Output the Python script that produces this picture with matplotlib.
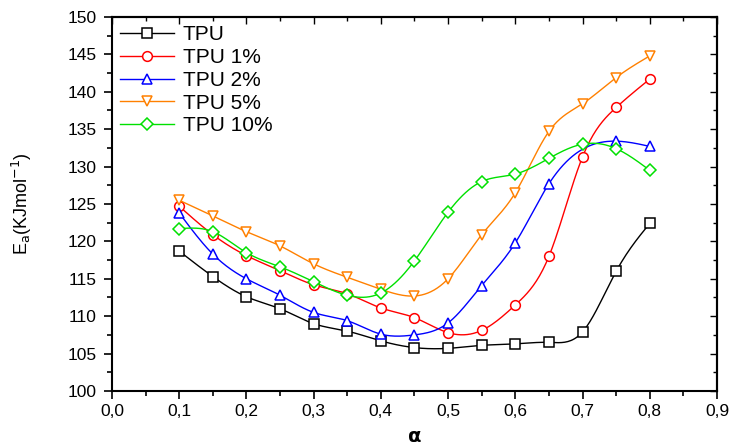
import numpy as np
import matplotlib
matplotlib.use('Agg')
import matplotlib.pyplot as plt
from matplotlib.ticker import MultipleLocator, FormatStrFormatter

plt.rcParams['font.family'] = ['Liberation Sans', 'DejaVu Sans']

alpha = [0.1, 0.15, 0.2, 0.25, 0.3, 0.35, 0.4, 0.45, 0.5, 0.55, 0.6, 0.65, 0.7, 0.75, 0.8]
alpha_2 = [0.1, 0.15, 0.2, 0.25, 0.3, 0.35, 0.4, 0.45, 0.5, 0.55, 0.6, 0.65, 0.75, 0.8]

ea_tpu = [118.7, 115.3, 112.6, 111.0, 109.0, 108.0, 106.7, 105.8, 105.7, 106.1, 106.3, 106.5, 107.9, 116.0, 122.4]
ea_tpu1 = [124.7, 120.9, 118.1, 116.1, 114.2, 113.0, 111.1, 109.8, 107.8, 108.1, 111.5, 118.0, 131.3, 137.9, 141.7]
ea_tpu2 = [123.8, 118.3, 115.0, 112.8, 110.5, 109.4, 107.6, 107.5, 109.1, 114.1, 119.8, 127.7, 133.4, 132.7]
ea_tpu5 = [125.5, 123.4, 121.3, 119.4, 117.0, 115.2, 113.6, 112.7, 115.0, 120.9, 126.5, 134.7, 138.4, 141.9, 144.8]
ea_tpu10 = [121.7, 121.3, 118.5, 116.6, 114.6, 112.8, 113.1, 117.4, 123.9, 128.0, 129.0, 131.1, 133.0, 132.4, 129.5]

labels = ['TPU', 'TPU 1%', 'TPU 2%', 'TPU 5%', 'TPU 10%']
colors = ['black', '#FF0000', '#0000FF', '#FF8000', '#00E000']
markers = ['s', 'o', '^', 'v', 'D']


def natural_spline(x, y, n=300):
    # plain natural cubic spline, only used to draw the smooth connecting line
    x = np.asarray(x, float)
    y = np.asarray(y, float)
    k = len(x)
    h = np.diff(x)
    A = np.zeros((k, k))
    b = np.zeros(k)
    A[0, 0] = 1
    A[-1, -1] = 1
    for i in range(1, k - 1):
        A[i, i - 1] = h[i - 1]
        A[i, i] = 2 * (h[i - 1] + h[i])
        A[i, i + 1] = h[i]
        b[i] = 6 * ((y[i + 1] - y[i]) / h[i] - (y[i] - y[i - 1]) / h[i - 1])
    m = np.linalg.solve(A, b)
    xs = np.linspace(x[0], x[-1], n)
    idx = np.clip(np.searchsorted(x, xs) - 1, 0, k - 2)
    x0, x1 = x[idx], x[idx + 1]
    hh = x1 - x0
    t0 = x1 - xs
    t1 = xs - x0
    ys = (m[idx] * t0 ** 3 + m[idx + 1] * t1 ** 3) / (6 * hh) \
        + (y[idx] / hh - m[idx] * hh / 6) * t0 \
        + (y[idx + 1] / hh - m[idx + 1] * hh / 6) * t1
    return xs, ys


fig = plt.figure(figsize=(7.29, 4.47), dpi=100)
ax = fig.add_axes([0.1536, 0.1253, 0.8299, 0.8367])

series = [(alpha, ea_tpu), (alpha, ea_tpu1), (alpha_2, ea_tpu2), (alpha, ea_tpu5), (alpha, ea_tpu10)]
for (xv, yv), lab, c, mk in zip(series, labels, colors, markers):
    ms = 7 if mk != 'D' else 6.5
    xs, ys = natural_spline(xv, yv)
    ax.plot(xs, ys, color=c, lw=1.0)
    ax.plot(xv, yv, linestyle='none', marker=mk, markersize=ms,
            markerfacecolor='white', markeredgecolor=c, markeredgewidth=1.1)
    ax.plot([], [], color=c, lw=1.0, marker=mk, markersize=ms,
            markerfacecolor='white', markeredgecolor=c, markeredgewidth=1.1, label=lab)

ax.set_xlim(0, 0.9)
ax.set_ylim(100, 150)
ax.xaxis.set_major_locator(MultipleLocator(0.1))
ax.xaxis.set_minor_locator(MultipleLocator(0.05))
ax.yaxis.set_major_locator(MultipleLocator(5))
ax.yaxis.set_minor_locator(MultipleLocator(2.5))
ax.xaxis.set_major_formatter(plt.FuncFormatter(lambda v, p: ('%.1f' % v).replace('.', ',')))
ax.yaxis.set_major_formatter(FormatStrFormatter('%d'))

ax.tick_params(which='both', direction='out', labelsize=12.5, width=1.2)
ax.tick_params(which='major', length=6)
ax.tick_params(which='minor', length=3.5)
ax.tick_params(axis='y', pad=5)
sec_x = ax.secondary_xaxis('top')
sec_x.xaxis.set_major_locator(MultipleLocator(0.1))
sec_x.xaxis.set_minor_locator(MultipleLocator(0.05))
sec_x.tick_params(which='both', direction='in', labeltop=False, width=1.0)
sec_x.tick_params(which='major', length=5)
sec_x.tick_params(which='minor', length=3)
sec_y = ax.secondary_yaxis('right')
sec_y.yaxis.set_major_locator(MultipleLocator(5))
sec_y.yaxis.set_minor_locator(MultipleLocator(2.5))
sec_y.tick_params(which='both', direction='in', labelright=False, width=1.0)
sec_y.tick_params(which='major', length=5)
sec_y.tick_params(which='minor', length=3)
for sp in ax.spines.values():
    sp.set_linewidth(1.5)
sec_x.spines['top'].set_linewidth(1.5)
sec_y.spines['right'].set_linewidth(1.5)

ax.set_xlabel(r'$\mathbf{\alpha}$', fontsize=14, labelpad=7)
ax.set_ylabel(r'E$_{\mathrm{a}}$(KJmol$^{\mathrm{-1}}$)', fontsize=13, labelpad=24)

ax.legend(loc='upper left', frameon=False, fontsize=15, handlelength=2.6,
          handletextpad=0.4, labelspacing=0.18, borderaxespad=0.1,
          borderpad=0.3)

fig.savefig('out.png', dpi=100)
